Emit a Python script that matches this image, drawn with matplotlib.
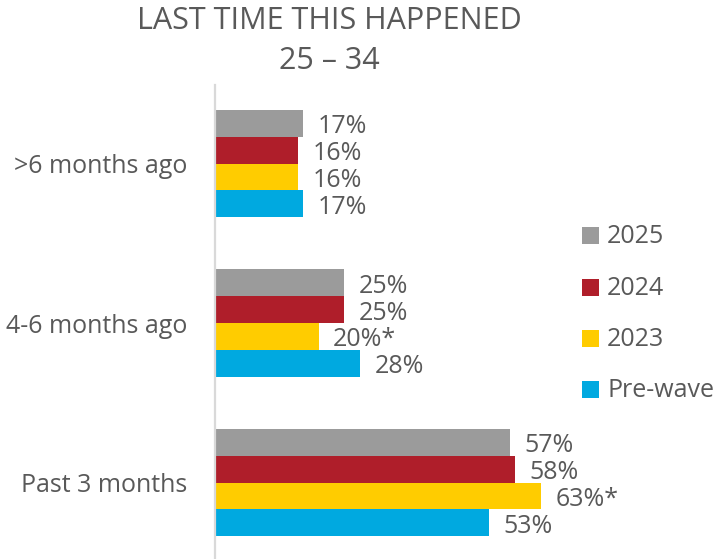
import matplotlib
matplotlib.use("Agg")
import matplotlib.pyplot as plt
from matplotlib.patches import Rectangle
import numpy as np

categories = [">6 months ago", "4-6 months ago", "Past 3 months"]
series = ["2025", "2024", "2023", "Pre-wave"]
values = {
    "2025": [17, 25, 57],
    "2024": [16, 25, 58],
    "2023": [16, 20, 63],
    "Pre-wave": [17, 28, 53],
}
labels = {
    "2025": ["17%", "25%", "57%"],
    "2024": ["16%", "25%", "58%"],
    "2023": ["16%", "20%*", "63%*"],
    "Pre-wave": ["17%", "28%", "53%"],
}
colors = {"2025": "#9B9B9B", "2024": "#AF1E2A", "2023": "#FFCC00", "Pre-wave": "#00A9E0"}

plt.rcParams['font.family'] = ['Open Sans', 'DejaVu Sans']
TXT = "#595959"
FS = 18

W, H = 718, 559
fig = plt.figure(figsize=(W / 100, H / 100), dpi=100)

ax_left = 215 / W
ax_right = (215 + 5.175 * 70) / W
ax_top = 1 - 85 / H
ax = fig.add_axes([ax_left, 0, ax_right - ax_left, ax_top])

unit = 159.5
bh = 26.9 / unit
pos = np.arange(len(categories))
for i, s in enumerate(series):
    y = pos + (i - 1.5) * bh
    ax.barh(y, values[s], height=bh, color=colors[s], edgecolor='none')
    for yy, v, lab in zip(y, values[s], labels[s]):
        ax.annotate(lab, (v, yy), xytext=(10.5, -2.5), textcoords='offset points',
                    va='center', ha='left', fontsize=FS, color=TXT)

top = -(163.5 - 85) / unit
ax.set_ylim(top + 474 / unit, top)
ax.set_xlim(0, 70)
ax.set_yticks(pos)
ax.set_yticklabels(categories, fontsize=FS, color=TXT)
ax.tick_params(axis='y', length=0, pad=20)
ax.set_xticks([])
for sp in ['top', 'right', 'bottom']:
    ax.spines[sp].set_visible(False)
ax.spines['left'].set_color('#D9D9D9')
ax.spines['left'].set_linewidth(1.6)

# title
fig.text(329 / W, 1 - 21 / H, "LAST TIME THIS HAPPENED", ha='center', va='center',
         fontsize=22, color=TXT)
fig.text(329 / W, 1 - 61 / H, "25 – 34", ha='center', va='center',
         fontsize=22, color=TXT)

# legend
leg_y = [235.5, 287.5, 338.5, 389.5]
for s, yc in zip(series, leg_y):
    fig.add_artist(Rectangle((582 / W, 1 - (yc + 8.5) / H), 17 / W, 17 / H,
                             transform=fig.transFigure, color=colors[s], lw=0))
    fig.text(607 / W, 1 - (yc + 1) / H, s, ha='left', va='center', fontsize=FS, color=TXT)

fig.savefig("out.png", dpi=100)
